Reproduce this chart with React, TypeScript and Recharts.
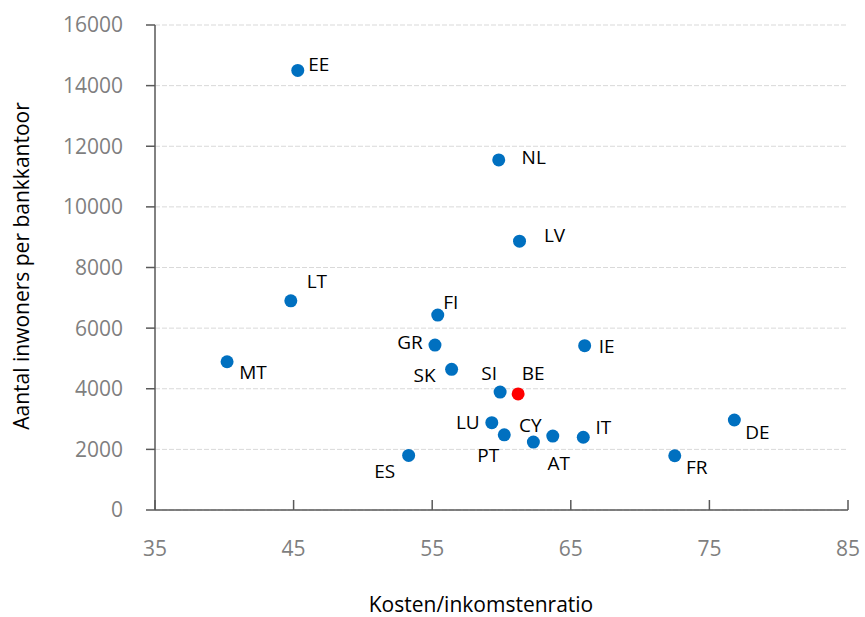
import { CartesianGrid, Scatter, ScatterChart, XAxis, YAxis } from 'recharts';

const countries = ['EE', 'NL', 'LV', 'LT', 'MT', 'FI', 'GR', 'IE', 'SK', 'SI', 'BE', 'LU', 'PT', 'CY', 'AT', 'IT', 'DE', 'FR', 'ES'];
const costIncomeRatio = [45.3, 59.8, 61.3, 44.8, 40.2, 55.4, 55.2, 66.0, 56.4, 59.9, 61.2, 59.3, 60.2, 62.3, 63.7, 65.9, 76.8, 72.5, 53.3];
const inhabitantsPerBranch = [14500, 11550, 8870, 6900, 4890, 6430, 5440, 5420, 4640, 3890, 3830, 2880, 2480, 2240, 2440, 2400, 2970, 1790, 1800];

const xTicks = [35, 45, 55, 65, 75, 85];
const yTicks = [0, 2000, 4000, 6000, 8000, 10000, 12000, 14000, 16000];

// label placement relative to the dot (centre of the label)
const labelOffset: Record<string, [number, number]> = {
  EE: [21, -6],
  NL: [35, -3],
  LV: [35, -6],
  LT: [26, -20],
  MT: [26, 10],
  FI: [13, -13],
  GR: [-25, -3],
  IE: [22, 0],
  SK: [-27, 6],
  SI: [-11, -19],
  BE: [15, -21],
  LU: [-24, -1],
  PT: [-16, 20],
  CY: [-3, -17],
  AT: [6, 27],
  IT: [20, -10],
  DE: [23, 12],
  FR: [22, 11],
  ES: [-24, 16],
};

const FONT = '"Open Sans", "Noto Sans", sans-serif';
const AXIS = '#595959';
const BLUE = '#0070c0';

const data = countries.map((name, i) => ({ name, x: costIncomeRatio[i], y: inhabitantsPerBranch[i] }));

function Dot(props: any) {
  const { cx, cy, payload } = props;
  const [dx, dy] = labelOffset[payload.name] ?? [20, 0];
  const isBE = payload.name === 'BE';
  return (
    <g>
      <circle cx={cx} cy={cy} r={6.5} fill={isBE ? '#ff0000' : BLUE} />
      <text x={cx + dx} y={cy + dy + 7} textAnchor="middle" fontSize={19} fill="#000" fontFamily={FONT}>
        {payload.name}
      </text>
    </g>
  );
}

function XTick(props: any) {
  const { x, y, payload } = props;
  return (
    <g>
      <line x1={x} x2={x} y1={y} y2={y - 10} stroke={AXIS} strokeWidth={1.5} />
      <text x={x} y={y + 46} textAnchor="middle" fontSize={21} fill="#7f7f7f" fontFamily={FONT}>
        {payload.value}
      </text>
    </g>
  );
}

export default function App() {
  return (
    <div style={{ position: 'absolute', left: 0, top: 0, width: 865, height: 617, background: '#fff', fontFamily: FONT }}>
      <ScatterChart width={865} height={617} margin={{ top: 25, right: 17, bottom: 0, left: 0 }}>
        <CartesianGrid horizontal vertical={false} stroke="#d9d9d9" strokeDasharray="5 2" />
        <XAxis
          type="number"
          dataKey="x"
          domain={[35, 85]}
          ticks={xTicks}
          interval={0}
          height={107}
          tickSize={0}
          tickMargin={0}
          tickLine={false}
          tick={<XTick />}
          axisLine={{ stroke: AXIS, strokeWidth: 1.5 }}
        />
        <YAxis
          type="number"
          dataKey="y"
          domain={[0, 16000]}
          ticks={yTicks}
          interval={0}
          width={155}
          tickSize={9}
          tickMargin={23}
          tick={{ fill: '#7f7f7f', fontSize: 21, fontFamily: FONT }}
          tickLine={{ stroke: AXIS, strokeWidth: 1.5 }}
          axisLine={{ stroke: AXIS, strokeWidth: 1.5 }}
        />
        <Scatter data={data} shape={<Dot />} isAnimationActive={false} />
        <text x={-266} y={29} transform="rotate(-90)" textAnchor="middle" fontSize={21} fill="#000" fontFamily={FONT}>
          Aantal inwoners per bankkantoor
        </text>
        <text x={481} y={612} textAnchor="middle" fontSize={21} fill="#000" fontFamily={FONT}>
          Kosten/inkomstenratio
        </text>
      </ScatterChart>
    </div>
  );
}
